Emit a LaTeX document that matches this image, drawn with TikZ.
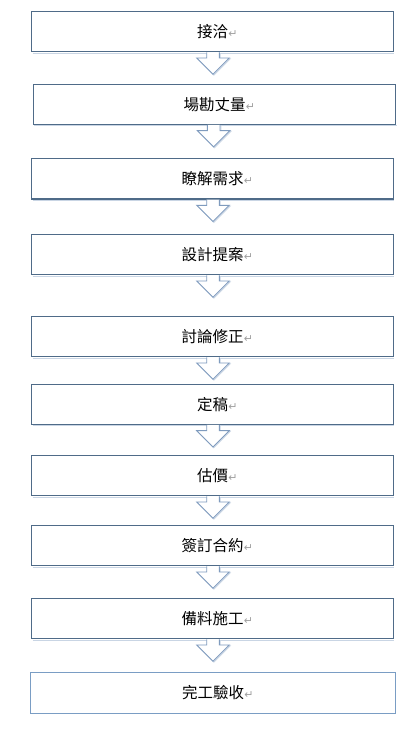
\documentclass[tikz,border=0pt]{standalone}
\usepackage{fontspec}
\usetikzlibrary{calc}
\newfontfamily\cjk{Noto Sans CJK TC}
\newfontfamily\markfont{DejaVu Sans}
\definecolor{boxline}{HTML}{4F6B88}
\definecolor{lastline}{HTML}{7A9DC4}
\definecolor{arrline}{HTML}{7F9BBE}
\definecolor{shadowc}{HTML}{C9D5E4}
\definecolor{markc}{HTML}{A0A0A0}
\newcommand{\lbl}[1]{{\cjk #1}\rlap{\kern0.3pt\markfont\fontsize{11}{12}\selectfont\color{markc}↵}}
\newcommand{\blockarr}[2]{%
  \draw[arrshadow] ($(#1.south)+(#2-6.3+0.8,-0.8)$) -- ++(0,-5.7) -- ++(-10,0)
    -- ($(#1.south)+(#2+0.8,-22.8)$) -- ($(#1.south)+(#2+16.3+0.8,-6.5)$) -- ++(-10,0) -- ++(0,5.7);
  \draw[arrstyle] ($(#1.south)+(#2-6.3,0)$) -- ++(0,-5.7) -- ++(-10,0)
    -- ($(#1.south)+(#2,-22)$) -- ($(#1.south)+(#2+16.3,-5.7)$) -- ++(-10,0) -- ++(0,5.7);
}
\begin{document}
\begin{tikzpicture}[x=1pt,y=1pt,
  stepbox/.style={draw=boxline,line width=1.2pt,fill=white,minimum height=40pt,inner sep=0pt,
    font=\fontsize{15.5}{18}\selectfont,text=black},
  lastbox/.style={stepbox,draw=lastline,line width=1pt},
  arrstyle/.style={draw=arrline,line width=0.9pt,fill=white,line join=miter},
  arrshadow/.style={draw=shadowc,line width=0.9pt,line join=miter},
  boxshadow/.style={draw=shadowc,line width=1pt}]
\useasboundingbox (0,0) rectangle (420,-731);
\fill[white] (0,0) rectangle (420,-731);

\foreach \n/\cx/\cy/\w/\h/\t in {
  b1/212.5/31.7/361.6/40/接洽,
  b2/214.5/104.3/362.4/40/場勘丈量,
  b3/212.5/178.65/361.6/40.7/瞭解需求,
  b4/212.5/254.5/361.6/40.4/設計提案,
  b5/212.5/336.7/361.6/40/討論修正,
  b6/212.5/404.3/361.6/40/定稿,
  b7/212.5/475.7/361.6/40/估價,
  b8/212.5/545.7/361.6/40/簽訂合約,
  b9/212.5/618.5/361.6/40.4/備料施工}{
  \draw[boxshadow] (\cx-\w/2+1,-\cy-\h/2-1.3) -- (\cx+\w/2+0.8,-\cy-\h/2-1.3);
  \node[stepbox,minimum width=\w pt,minimum height=\h pt] (\n) at (\cx,-\cy) {\lbl{\t}};
}
\node[lastbox,minimum width=365.4pt,minimum height=41pt] (b10) at (213,-692.8) {\lbl{完工驗收}};

\blockarr{b1}{0.5}
\blockarr{b2}{-0.8}
\blockarr{b3}{0.5}
\blockarr{b4}{0.5}
\blockarr{b5}{0.5}
\blockarr{b6}{0.5}
\blockarr{b7}{0.5}
\blockarr{b8}{0.5}
\blockarr{b9}{0.5}
\end{tikzpicture}
\end{document}
